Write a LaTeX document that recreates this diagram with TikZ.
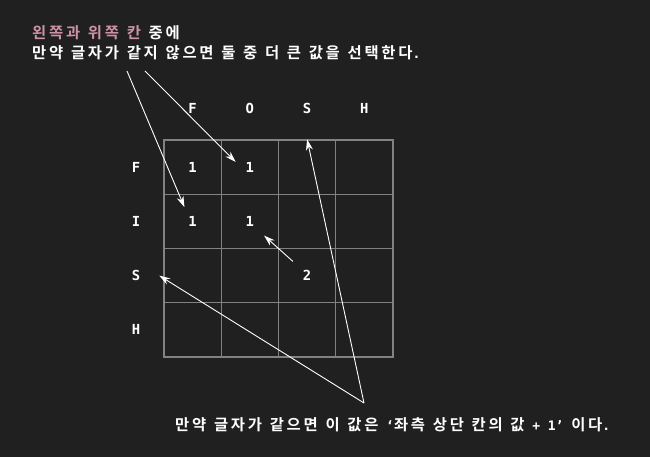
\documentclass[tikz,border=0pt]{standalone}
\usepackage{fontspec}
\setmainfont{Noto Sans CJK KR}[BoldFont={Noto Sans CJK KR Bold},LetterSpace=18]
\newfontfamily\lt{DejaVu Sans Mono}[BoldFont={DejaVu Sans Mono Bold},Scale=0.9]
\usepackage{xcolor}
\usetikzlibrary{arrows.meta,positioning}
\definecolor{bg}{RGB}{32,32,32}
\definecolor{gridgrey}{RGB}{130,130,130}
\definecolor{pinktext}{RGB}{206,146,164}
\newcommand\widesp{\spaceskip=7.7pt\relax}
\newcommand\ltin[1]{{\lt\fontsize{14.5}{18}\selectfont\bfseries#1}}

\begin{document}
\begin{tikzpicture}[x=1pt,y=-1pt,
    every node/.style={text=white,font=\fontsize{15.4}{18}\selectfont\bfseries\widesp},
    cell/.style={draw=gridgrey,line width=1.4pt,minimum width=57.25pt,minimum height=54.25pt,inner sep=0pt},
    val/.style={font=\lt\fontsize{15.4}{18}\selectfont\bfseries,minimum size=28pt,inner sep=0pt},
    hdr/.style={font=\lt\fontsize{15.4}{18}\selectfont\bfseries,inner sep=0pt},
    note/.style={anchor=west,inner sep=0pt},
    arr/.style={draw=white,line width=0.9pt,-{Stealth[length=11pt,width=7pt]}}]
  \fill[bg] (0,0) rectangle (650,457);
  \useasboundingbox (0,0) rectangle (650,457);
  % grid
  \foreach \r in {1,...,4}
    \foreach \c in {1,...,4}
      \node[cell] (c\r\c) at ({164+57.25*(\c-0.5)},{140+54.25*(\r-0.5)}) {};
  % headers
  \foreach \t [count=\i] in {F,O,S,H}
    \node[hdr] (col\i) at (c1\i |- 0,108) {\t};
  \foreach \t [count=\i] in {F,I,S,H}
    \node[hdr] (row\i) at (136,0 |- c\i1) {\t};
  % values
  \node[val] (v11) at (c11) {1};
  \node[val] (v12) at (c12) {1};
  \node[val] (v21) at (c21) {1};
  \node[val] (v22) at (c22) {1};
  \node[val] (v33) at (c33) {2};
  % notes
  \node[note] (top1) at (32,33) {{\color{pinktext}왼쪽과 위쪽 칸} 중에};
  \node[note] (top2) at (32,53) {만약 글자가 같지 않으면 둘 중 더 큰 값을 선택한다\ltin{.}};
  \node[note] (bot) at (175,425) {만약 글자가 같으면 이 값은 \ltin{‘}좌측 상단 칸의 값 \ltin{+ 1’} 이다\ltin{.}};
  \coordinate (from1) at (127,71);
  \coordinate (from2) at (145,71);
  \coordinate (from3) at (364,403);
  % arrows
  \draw[arr] (from1) -- (v21.120);
  \draw[arr] (from2) -- (v12.160);
  \draw[arr] (from3) -- (c13.north);
  \draw[arr] (from3) -- ([xshift=-4pt]c31.west);
  \draw[arr] (v33.north west) -- (v22.south east);
\end{tikzpicture}
\end{document}
